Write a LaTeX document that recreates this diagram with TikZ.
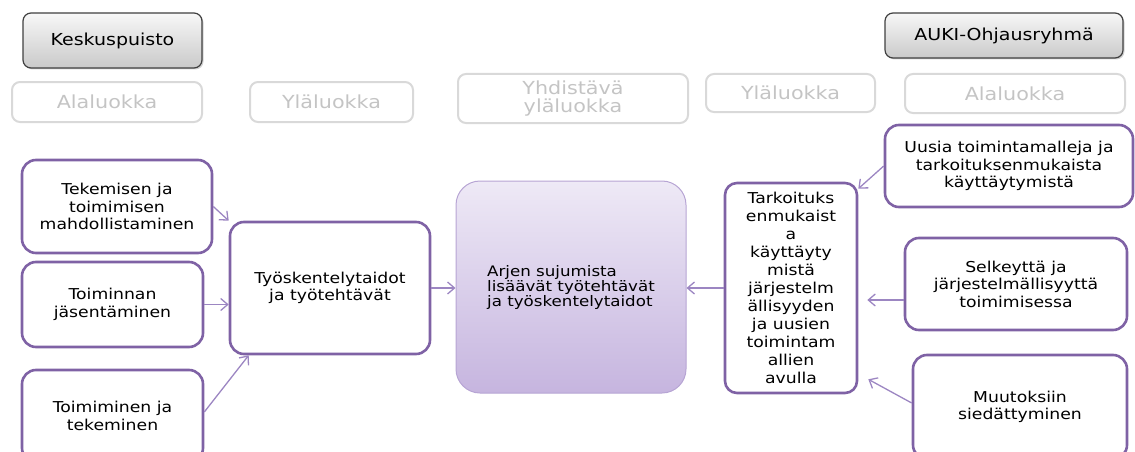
\documentclass[tikz,border=0pt]{standalone}
\usepackage{fontspec}
\setmainfont{DejaVu Sans}[FakeStretch=1.15]
\usetikzlibrary{arrows.meta,shadows}
\definecolor{boxpurple}{HTML}{7F62A5}
\definecolor{arrowpurple}{HTML}{9C86C2}
\definecolor{hdrgray}{HTML}{D9D9D9}
\definecolor{hdrtext}{HTML}{C4C4C4}
\definecolor{centertop}{HTML}{EEE9F6}
\definecolor{centerbot}{HTML}{C6B5DF}
\definecolor{centerline}{HTML}{B7A5D4}
\begin{document}
\begin{tikzpicture}[x=1pt, y=-1pt,
    every node/.style={align=center, inner sep=0pt},
    purplebox/.style={draw=boxpurple, line width=2.6pt, rounded corners=14pt, fill=white,
        font=\fontsize{15}{17.5}\selectfont},
    header/.style={draw=hdrgray, line width=2pt, rounded corners=8pt, text=hdrtext,
        font=\fontsize{18}{17.5}\selectfont},
    topbox/.style={draw=black!75, line width=1.2pt, rounded corners=8pt,
        top color=gray!6, bottom color=gray!42,
        drop shadow={shadow xshift=1.5pt, shadow yshift=-1.5pt, opacity=0.35},
        font=\fontsize{16.5}{17.5}\selectfont},
    link/.style={draw=arrowpurple, line width=1.3pt, -{Straight Barb[length=7pt, width=12pt]}}]
    \path[use as bounding box] (0, 0) rectangle (1135, 452);
    \clip (0, 0) rectangle (1135, 452);

    % Groups
    \node[topbox, minimum width=179pt, minimum height=55pt] (kesk) at (112.5, 40.5) {Keskuspuisto};
    \node[topbox, minimum width=238pt, minimum height=45pt] (auki) at (1004, 35.5) {AUKI-Ohjausryhmä};

    % Column headings
    \node[header, minimum width=190pt, minimum height=40pt] (alaL) at (107, 102) {Alaluokka};
    \node[header, minimum width=163pt, minimum height=40pt] (ylaL) at (331.5, 102) {Yläluokka};
    \node[header, minimum width=230pt, minimum height=49pt] (yhd) at (573, 98.5) {Yhdistävä\\yläluokka};
    \node[header, minimum width=169pt, minimum height=38pt] (ylaR) at (790.5, 93) {Yläluokka};
    \node[header, minimum width=220pt, minimum height=39pt] (alaR) at (1015, 93.5) {Alaluokka};

    % Left side
    \node[purplebox, minimum width=190pt, minimum height=93pt] (tek) at (117, 206.5)
        {Tekemisen ja\\toimimisen\\mahdollistaminen};
    \node[purplebox, minimum width=181pt, minimum height=85pt] (jas) at (112.5, 304.5)
        {Toiminnan\\jäsentäminen};
    \node[purplebox, minimum width=181pt, minimum height=92pt] (toim) at (112.5, 416)
        {Toimiminen ja\\tekeminen};
    \node[purplebox, minimum width=200pt, minimum height=132pt] (tyo) at (330, 288)
        {Työskentelytaidot\\ja työtehtävät};

    % Centre
    \node[draw=centerline, line width=1pt, rounded corners=24pt, top color=centertop,
        bottom color=centerbot, minimum width=230pt, minimum height=212pt, align=left,
        font=\fontsize{14.5}{15}\selectfont] (arjen) at (571, 287)
        {Arjen sujumista\\lisäävät työtehtävät\\ja työskentelytaidot};

    % Right side
    \node[purplebox, rounded corners=12pt, minimum width=132pt, minimum height=210pt,
        font=\fontsize{15}{18}\selectfont] (tark) at (791, 288)
        {Tarkoituks\\enmukaist\\a\\käyttäyty\\mistä\\järjestelm\\ällisyyden\\ja uusien\\toimintam\\allien\\avulla};
    \node[purplebox, minimum width=248pt, minimum height=82pt] (uusia) at (1009, 166)
        {Uusia toimintamalleja ja\\tarkoituksenmukaista\\käyttäytymistä};
    \node[purplebox, minimum width=222pt, minimum height=92pt] (selk) at (1016, 284)
        {Selkeyttä ja\\järjestelmällisyyttä\\toimimisessa};
    \node[purplebox, minimum width=214pt, minimum height=104pt] (muut) at (1020, 407)
        {Muutoksiin\\siedättyminen};

    % Arrows
    \draw[link] (tek.east) -- (tyo.north west);
    \draw[link] (jas.east) -- (jas.east -| tyo.west);
    \draw[link] ([yshift=4pt]toim.east) -- ([xshift=20pt]tyo.south west);
    \draw[link] (tyo.east) -- (tyo.east -| arjen.west);
    \draw[link] (tark.west) -- (tark.west -| arjen.east);
    \draw[link] (uusia.west) -- ([yshift=-7pt]tark.north east);
    \draw[link, shorten >=9pt] ([yshift=-16pt]selk.west) -- ([yshift=-16pt]selk.west -| tark.east);
    \draw[link] ([yshift=4pt]muut.west) -- ([xshift=10pt, yshift=15pt]tark.south east);
\end{tikzpicture}
\end{document}
